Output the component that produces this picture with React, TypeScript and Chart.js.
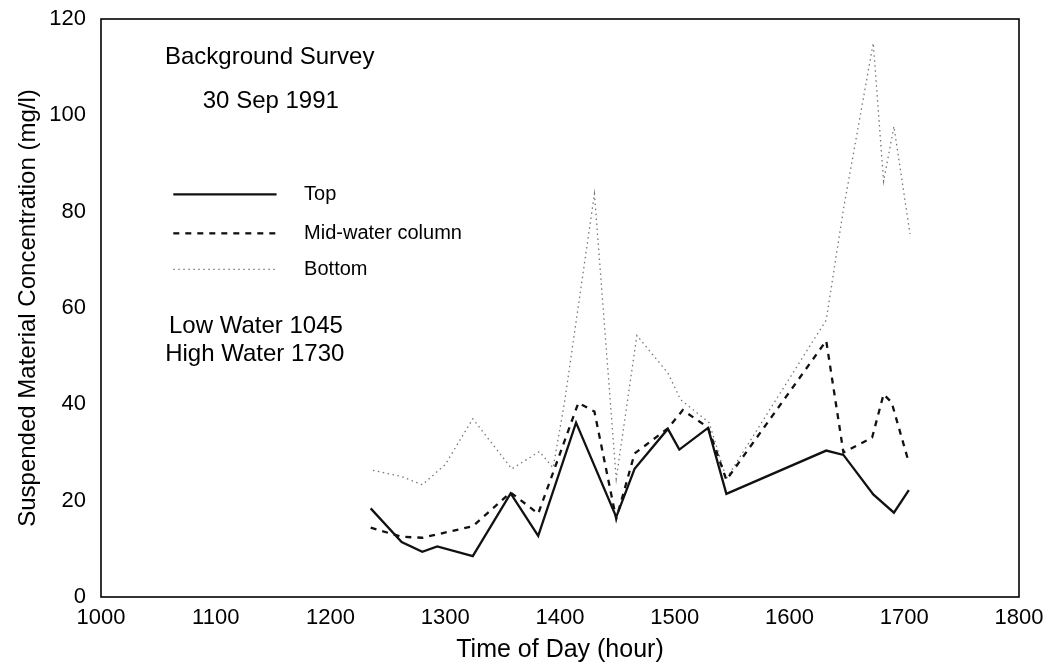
import React, { useEffect, useRef } from "react";
import { Chart, registerables } from "chart.js";

Chart.register(...registerables);

const FONT = "'Liberation Sans', Arial, Helvetica, sans-serif";

const topTime = [1235, 1262, 1280, 1293, 1324, 1357, 1381, 1414, 1449, 1465, 1494, 1504, 1529, 1545, 1632, 1647, 1673, 1691, 1704];
const topVal = [18.4, 11.4, 9.4, 10.5, 8.5, 21.5, 12.7, 36.2, 16.6, 26.6, 34.9, 30.6, 35.1, 21.4, 30.4, 29.5, 21.3, 17.5, 22.2];

const midTime = [1235, 1262, 1280, 1293, 1324, 1357, 1381, 1416, 1430, 1449, 1465, 1494, 1507, 1529, 1545, 1632, 1647, 1672, 1682, 1689, 1704];
const midVal = [14.4, 12.5, 12.3, 13.0, 14.7, 21.7, 17.3, 40.3, 38.5, 16.2, 29.8, 35.0, 38.8, 35.2, 24.3, 53.2, 30.0, 33.1, 42.1, 40.4, 27.9];

const botTime = [1237, 1262, 1280, 1300, 1324, 1358, 1382, 1394, 1404, 1430, 1449, 1467, 1494, 1505, 1530, 1545, 1632, 1647, 1673, 1682, 1691, 1705];
const botVal = [26.3, 25.0, 23.3, 27.5, 37.0, 26.6, 30.2, 26.8, 40.5, 83.7, 24.5, 54.3, 46.5, 41.0, 36.2, 24.6, 57.5, 80.5, 115.0, 86.3, 97.7, 75.4];

const seriesNames = ["Top", "Mid-water column", "Bottom"];
const xTicks = [1000, 1100, 1200, 1300, 1400, 1500, 1600, 1700, 1800];
const yTicks = [0, 20, 40, 60, 80, 100, 120];
const xTitle = "Time of Day (hour)";
const yTitle = "Suspended Material Concentration (mg/l)";
const notes = ["Background Survey", "30 Sep 1991", "Low Water 1045", "High Water 1730"];

const pts = (t: number[], v: number[]) => t.map((x, i) => ({ x, y: v[i] }));

const noOverhang = (s: any) => {
  s.paddingTop = 0;
  s.paddingBottom = 0;
  s.paddingLeft = 0;
  s.paddingRight = 0;
};

export default function App() {
  const ref = useRef<HTMLCanvasElement | null>(null);

  useEffect(() => {
    document.body.style.margin = "0";
    const canvas = ref.current;
    if (!canvas) return;

    const framePlugin = {
      id: "frameAndNotes",
      afterDraw(chart: any) {
        const { ctx, chartArea: a, scales } = chart;
        const xs = scales.x;
        const ys = scales.y;
        ctx.save();
        ctx.strokeStyle = "#000";
        ctx.lineWidth = 1.6;
        ctx.strokeRect(a.left, a.top, a.right - a.left, a.bottom - a.top);

        // annotation texts
        ctx.fillStyle = "#000";
        ctx.textAlign = "center";
        ctx.textBaseline = "middle";
        ctx.font = `24px ${FONT}`;
        const notePos = [
          [1147, 112.0],
          [1148, 102.8],
          [1135, 56.1],
          [1134, 50.3],
        ];
        notes.forEach((n, i) => {
          ctx.fillText(n, xs.getPixelForValue(notePos[i][0]), ys.getPixelForValue(notePos[i][1]));
        });

        // legend
        const legY = [83.6, 75.5, 68.0];
        const x0 = xs.getPixelForValue(1063);
        const x1 = xs.getPixelForValue(1153);
        const tx = xs.getPixelForValue(1177);
        chart.data.datasets.forEach((ds: any, i: number) => {
          const y = ys.getPixelForValue(legY[i]);
          ctx.beginPath();
          ctx.strokeStyle = ds.borderColor;
          ctx.lineWidth = ds.borderWidth;
          ctx.setLineDash(ds.borderDash || []);
          ctx.moveTo(x0, y);
          ctx.lineTo(x1, y);
          ctx.stroke();
          ctx.setLineDash([]);
          ctx.fillStyle = "#000";
          ctx.textAlign = "left";
          ctx.font = `20px ${FONT}`;
          ctx.fillText(ds.label, tx, y);
        });
        ctx.restore();
      },
    };

    const chart = new Chart(canvas, {
      type: "line",
      data: {
        datasets: [
          {
            label: seriesNames[0],
            data: pts(topTime, topVal),
            borderColor: "#111",
            borderWidth: 2.3,
            pointRadius: 0,
            tension: 0,
            fill: false,
          },
          {
            label: seriesNames[1],
            data: pts(midTime, midVal),
            borderColor: "#111",
            borderWidth: 2.3,
            borderDash: [6, 6],
            pointRadius: 0,
            tension: 0,
            fill: false,
          },
          {
            label: seriesNames[2],
            data: pts(botTime, botVal),
            borderColor: "#777",
            borderWidth: 1.3,
            borderDash: [1.5, 3.5],
            pointRadius: 0,
            tension: 0,
            fill: false,
          },
        ],
      },
      options: {
        animation: false,
        responsive: false,
        maintainAspectRatio: false,
        events: [],
        layout: { padding: { top: 19, right: 27, left: 0, bottom: 0 } },
        plugins: { legend: { display: false }, tooltip: { enabled: false } },
        scales: {
          x: {
            type: "linear",
            min: 1000,
            max: 1800,
            afterFit: (s: any) => {
              s.height = 74;
              noOverhang(s);
            },
            afterBuildTicks: (s: any) => {
              s.ticks = xTicks.map((v) => ({ value: v }));
            },
            grid: { display: false, drawTicks: false },
            border: { display: false },
            ticks: {
              autoSkip: false,
              maxRotation: 0,
              padding: 8,
              color: "#000",
              font: { family: FONT, size: 22 },
              callback: (v: any) => String(v),
            },
            title: {
              display: true,
              text: xTitle,
              color: "#000",
              font: { family: FONT, size: 25 },
              padding: { top: 0, bottom: 6 },
            },
          },
          y: {
            type: "linear",
            min: 0,
            max: 120,
            afterFit: (s: any) => {
              s.width = 101;
              noOverhang(s);
            },
            afterBuildTicks: (s: any) => {
              s.ticks = yTicks.map((v) => ({ value: v }));
            },
            grid: { display: false, drawTicks: false },
            border: { display: false },
            ticks: {
              autoSkip: false,
              padding: 15,
              color: "#000",
              font: { family: FONT, size: 22 },
              callback: (v: any) => String(v),
            },
            title: {
              display: true,
              text: yTitle,
              color: "#000",
              font: { family: FONT, size: 24 },
              padding: { top: 14, bottom: 0 },
            },
          },
        },
      },
      plugins: [framePlugin],
    } as any);

    return () => chart.destroy();
  }, []);

  return (
    <div style={{ position: "absolute", left: 0, top: 0, width: 1046, height: 671, background: "#fff" }}>
      <canvas ref={ref} width={1046} height={671} style={{ display: "block", width: 1046, height: 671 }} />
    </div>
  );
}
